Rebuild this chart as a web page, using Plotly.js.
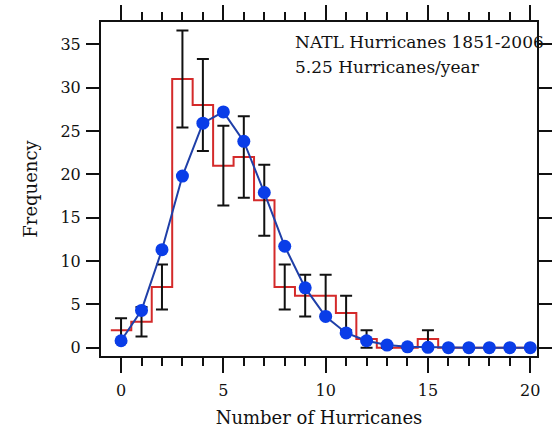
<!DOCTYPE html>
<html>
<head>
<meta charset="utf-8">
<script src="https://cdn.plot.ly/plotly-3.0.1.min.js"></script>
<style>html,body{margin:0;padding:0;background:#fff;}#chart{width:558px;height:428px;}</style>
</head>
<body>
<div id="chart"></div>
<script>
// Number of hurricanes per year (categories)
const hurricaneCounts = [0,1,2,3,4,5,6,7,8,9,10,11,12,13,14,15,16,17,18,19,20];
// Observed frequency (red histogram)
const observedFreq = [2,3,7,31,28,21,22,17,7,6,6,4,1,0,0,1,0,0,0,0,0];
// Error bar half-lengths
const observedErr = [1.4,1.7,2.6,5.6,5.3,4.6,4.7,4.1,2.6,2.4,2.4,2.0,1.0,0,0,1.0,0,0,0,0,0];
// Model frequency (blue dots)
const modelFreq = [0.8,4.3,11.3,19.8,25.9,27.2,23.8,17.9,11.7,6.9,3.6,1.7,0.8,0.3,0.1,0.04,0,0,0,0,0];
const annotationLines = ["NATL Hurricanes 1851-2006", "5.25 Hurricanes/year"];

// step outline: bin edges from the categories
const stepX = hurricaneCounts.map(n => n - 0.5);
stepX.push(hurricaneCounts[hurricaneCounts.length - 1]);
const stepY = observedFreq.slice();
stepY.push(observedFreq[observedFreq.length - 1]);

const FONT = "DejaVu Serif, Liberation Serif, serif";

const traces = [
  {x: stepX, y: stepY, type: 'scatter', mode: 'lines',
   line: {shape: 'hv', color: '#d42a2a', width: 2}, hoverinfo: 'skip'},
  {x: hurricaneCounts, y: observedFreq, type: 'scatter', mode: 'markers',
   marker: {size: 1, opacity: 0},
   error_y: {type: 'data', array: observedErr, visible: true, color: '#111', thickness: 2, width: 6}},
  {x: hurricaneCounts, y: modelFreq, type: 'scatter', mode: 'lines+markers',
   line: {color: '#1f3fa8', width: 2},
   marker: {color: '#0a3de8', size: 13}}
];

const layout = {
  width: 558, height: 428,
  margin: {l: 101, r: 21, t: 22, b: 72},
  paper_bgcolor: '#fff', plot_bgcolor: '#fff',
  showlegend: false,
  font: {family: FONT, size: 16, color: '#111'},
  xaxis: {
    range: [-0.98, 20.33], tickvals: [0,5,10,15,20],
    ticks: 'outside', ticklen: 15, tickwidth: 2, tickcolor: '#111',
    minor: {dtick: 1, tick0: 0, ticks: 'outside', ticklen: 8, tickwidth: 2, tickcolor: '#111'},
    showline: true, linewidth: 2, linecolor: '#111', mirror: 'allticks',
    showgrid: false, zeroline: false, ticklabelstandoff: 4,
    tickfont: {family: FONT, size: 16},
    title: {text: 'Number of Hurricanes', font: {family: FONT, size: 18}, standoff: 13}
  },
  yaxis: {
    range: [-0.96, 37.57], tickvals: [0,5,10,15,20,25,30,35],
    ticks: 'outside', ticklen: 13, tickwidth: 2, tickcolor: '#111',
    showline: true, linewidth: 2, linecolor: '#111', mirror: 'allticks',
    showgrid: false, zeroline: false, ticklabelstandoff: 2,
    tickfont: {family: FONT, size: 16},
    title: {text: 'Frequency', font: {family: FONT, size: 18}, standoff: 18}
  },
  annotations: [
    {xref: 'paper', yref: 'paper', x: 0.44, y: 0.940,
     xanchor: 'left', yanchor: 'middle', align: 'left', showarrow: false,
     text: annotationLines[0], font: {family: FONT, size: 17, color: '#111'}},
    {xref: 'paper', yref: 'paper', x: 0.44, y: 0.865,
     xanchor: 'left', yanchor: 'middle', align: 'left', showarrow: false,
     text: annotationLines[1], font: {family: FONT, size: 17, color: '#111'}}
  ]
};

Plotly.newPlot('chart', traces, layout, {displayModeBar: false, staticPlot: true});
</script>
</body>
</html>
